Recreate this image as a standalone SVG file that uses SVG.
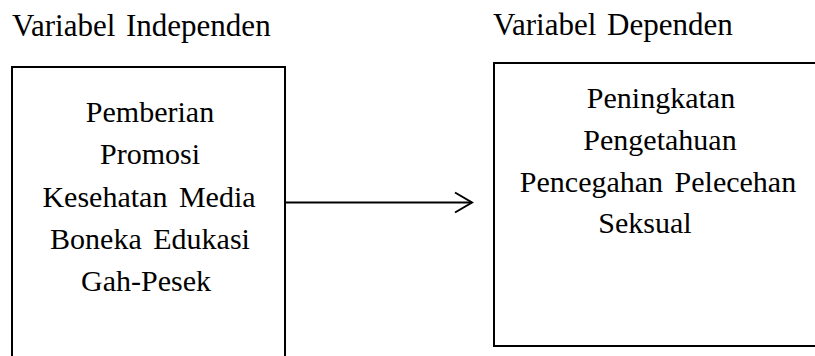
<svg xmlns="http://www.w3.org/2000/svg" width="815" height="356" viewBox="0 0 815 356">
<style>
text{font-family:"Liberation Serif","Times New Roman",serif;font-size:30px;fill:#000}
.h{font-size:31px}
.box{fill:none;stroke:#000;stroke-width:2}
.c{text-anchor:middle}
.ln{fill:none;stroke:#000;stroke-width:2}
</style>
<rect width="815" height="356" fill="#fff"/>
<text class="h" x="12" y="36" word-spacing="3">Variabel Independen</text>
<text class="h" x="493" y="35" word-spacing="3">Variabel Dependen</text>
<g id="independen">
<path class="box" d="M12,357 V67 H285 V357"/>
<text class="c" x="150" y="122">Pemberian</text>
<text class="c" x="150" y="164">Promosi</text>
<text class="c" x="149" y="207" word-spacing="4">Kesehatan Media</text>
<text class="c" x="150" y="249" word-spacing="4">Boneka Edukasi</text>
<text class="c" x="146" y="291">Gah-Pesek</text>
</g>
<g id="dependen">
<path class="box" d="M816,63 H494 V346 H816"/>
<text class="c" x="661" y="108">Peningkatan</text>
<text class="c" x="660" y="150">Pengetahuan</text>
<text class="c" x="658" y="192" word-spacing="4">Pencegahan Pelecehan</text>
<text class="c" x="645" y="233">Seksual</text>
</g>
<g id="connectors">
<path class="ln" d="M286,202.5 H472"/>
<path class="ln" d="M455,192.5 L472,202.5 L455,212.5"/>
</g>
</svg>
